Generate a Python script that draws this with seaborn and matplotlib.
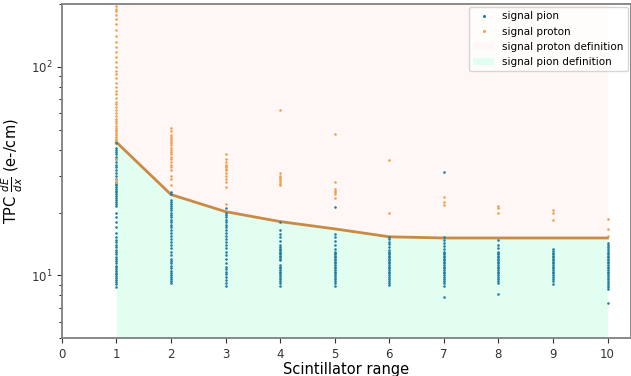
import matplotlib
matplotlib.use("Agg")
import matplotlib.pyplot as plt
import seaborn as sns
import pandas as pd
import numpy as np
from matplotlib.lines import Line2D
from matplotlib.patches import Patch

# ---- data ----
ranges = [1, 2, 3, 4, 5, 6, 7, 8, 9, 10]
boundary = [43.5, 24.4, 20.2, 18.1, 16.7, 15.3, 15.1, 15.1, 15.1, 15.1]

pion_1 = [43, 41, 40, 39, 38, 37, 36, 35, 34, 33, 32, 31, 30, 29, 28, 27.5, 27, 26.5, 26, 25.5,
          25, 24.5, 24, 23.5, 23, 22.5, 22, 21.5, 20, 19, 18, 17, 16, 15.2, 14.8, 14.4, 14, 13.6,
          13.2, 12.9, 12.6, 12.3, 12.0, 11.7, 11.4, 11.1, 10.9, 10.7, 10.5, 10.3, 10.1, 9.9, 9.7,
          9.5, 9.3, 9.1, 8.8]
proton_1 = [195, 190, 185, 178, 170, 160, 150, 140, 132, 125, 118, 112, 106, 100, 96, 92, 88, 84,
            80, 77, 74, 71, 68, 66, 64, 62, 60, 58, 56.5, 55, 53.5, 52, 51, 50, 49, 48, 47, 46,
            45, 44.5, 36, 29, 28]
pion_2 = [25.2, 24.5, 23, 22.5, 22, 21.5, 21, 20.5, 20, 19.5, 19, 18.5, 18, 17.5, 17, 16.5, 16,
          15.5, 15, 14.5, 14, 13.5, 13, 12.5, 12, 11.7, 11.4, 11.1, 10.8, 10.5, 10.2, 10, 9.8,
          9.6, 9.4, 9.2]
proton_2 = [51, 49, 47, 46, 45, 44, 43, 42, 41, 40, 39, 38, 37, 36, 35, 34, 33, 32, 30, 29, 27]
pion_3 = [21, 20, 19.5, 19, 18.5, 18, 17.5, 17, 16.5, 16, 15.5, 15, 14.5, 14, 13.5, 13, 12.5,
          12, 11.5, 11, 10.7, 10.4, 10.1, 9.8, 9.5, 9.2, 8.9]
proton_3 = [38, 36, 35, 34, 33.5, 33, 32.5, 32, 31, 30, 29, 28, 26.5, 22]
pion_4 = [18, 16.5, 15.7, 15.2, 14.6, 14.0, 13.6, 13.4, 13.2, 13.0, 12.8, 12.6, 12.4, 12.2, 12.0,
          11.8, 11.2, 11.0, 10.8, 10.6, 10.4, 10.2, 10.0, 9.8, 9.6, 9.4, 9.2, 8.9]
proton_4 = [62, 31, 30, 29.5, 29, 28.5, 28, 27.5, 27]
pion_5 = [21.3, 15.7, 15.2, 14.6, 14.0, 13.4, 13.0, 12.8, 12.6, 12.4, 12.2, 12.0, 11.8, 11.6,
          11.4, 11.2, 11.0, 10.8, 10.6, 10.4, 10.2, 10.0, 9.8, 9.6, 9.4, 9.2, 8.9]
proton_5 = [47.5, 28, 26, 25.5, 25, 24.5, 23.5]
pion_6 = [15.3, 14.9, 14.5, 14.1, 13.6, 13.2, 13.0, 12.8, 12.6, 12.4, 12.2, 12.0, 11.8, 11.6,
          11.4, 11.2, 11.0, 10.8, 10.6, 10.4, 10.2, 10.0, 9.8, 9.6, 9.4, 9.2, 9.0]
proton_6 = [35.6, 20]
pion_7 = [31.2, 15.2, 14.8, 14.3, 13.8, 13.3, 13.0, 12.8, 12.6, 12.4, 12.2, 12.0, 11.8, 11.6,
          11.4, 11.2, 11.0, 10.8, 10.6, 10.4, 10.2, 10.0, 9.8, 9.6, 9.4, 9.2, 8.9, 7.9]
proton_7 = [23.8, 22.5, 21.8]
pion_8 = [14.7, 14.0, 13.5, 13.0, 12.8, 12.6, 12.4, 12.2, 12.0, 11.8, 11.6, 11.4, 11.2, 11.0,
          10.8, 10.6, 10.4, 10.2, 10.0, 9.8, 9.6, 9.4, 9.2, 8.1]
proton_8 = [21.5, 21, 20]
pion_9 = [13.4, 13.1, 12.8, 12.6, 12.4, 12.2, 12.0, 11.8, 11.6, 11.4, 11.2, 11.0, 10.8, 10.6,
          10.4, 10.2, 10.0, 9.8, 9.6, 9.4, 9.1]
proton_9 = [20.6, 20, 18.5]
pion_10 = [14.3, 14.0, 13.7, 13.4, 13.1, 12.8, 12.6, 12.4, 12.2, 12.0, 11.8, 11.6, 11.4, 11.2,
           11.0, 10.8, 10.6, 10.4, 10.2, 10.0, 9.8, 9.6, 9.4, 9.2, 9.0, 8.8, 8.6, 7.4]
proton_10 = [18.7, 16.6, 15.5]

pion_cols = [pion_1, pion_2, pion_3, pion_4, pion_5, pion_6, pion_7, pion_8, pion_9, pion_10]
proton_cols = [proton_1, proton_2, proton_3, proton_4, proton_5, proton_6, proton_7, proton_8,
               proton_9, proton_10]

def long_form(cols):
    xs, ys = [], []
    for r, vals in zip(ranges, cols):
        xs += [r] * len(vals)
        ys += list(vals)
    return pd.DataFrame({"range": xs, "dEdx": ys})

df_pion = long_form(pion_cols)
df_proton = long_form(proton_cols)

# ---- plot ----
fig = plt.figure(figsize=(6.31, 3.76), dpi=100)
ax = fig.add_axes([0.098, 0.101, 0.902, 0.888])

pink = "#fff7f5"
green = "#e2fef1"
ax.fill_between(ranges, boundary, 200, color=pink, lw=0, zorder=0)
ax.fill_between(ranges, 5, boundary, color=green, lw=0, zorder=0)
sns.lineplot(x=ranges, y=boundary, color="#c98a45", lw=2, ax=ax, zorder=1)

blue = "#1f7ea3"
orange = "#f0a050"
sns.scatterplot(data=df_pion, x="range", y="dEdx", color=blue, s=3.5, linewidth=0, ax=ax, zorder=3)
sns.scatterplot(data=df_proton, x="range", y="dEdx", color=orange, s=3.5, linewidth=0, ax=ax, zorder=3)

ax.set_yscale("log")
ax.set_ylim(5, 200)
ax.set_xlim(0, 10.43)
ax.set_xticks(range(0, 11))
ax.set_xlabel("Scintillator range", fontsize=10.5, labelpad=1)
ax.set_ylabel(r"TPC $\frac{dE}{dx}$ (e-/cm)", fontsize=10.5)
ax.tick_params(labelsize=8.5, colors="#333333")
for s in ax.spines.values():
    s.set_color("#808080")
    s.set_linewidth(1.3)

handles = [
    Line2D([], [], marker="o", ls="", color=blue, markersize=1.2),
    Line2D([], [], marker="o", ls="", color=orange, markersize=1.2),
    Patch(facecolor=pink, edgecolor="none"),
    Patch(facecolor=green, edgecolor="none"),
]
labels = ["signal pion", "signal proton", "signal proton definition", "signal pion definition"]
ax.legend(handles, labels, loc="upper right", fontsize=7.5, frameon=True, borderaxespad=0.3)

fig.savefig("out.png", dpi=100)
